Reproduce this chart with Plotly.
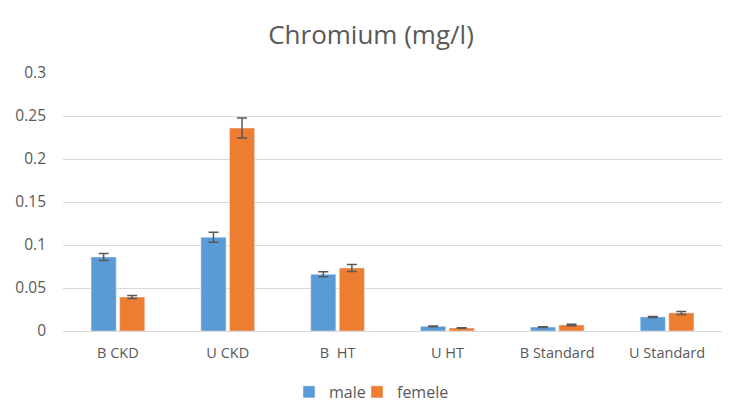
import plotly.graph_objects as go

categories = ["B CKD", "U CKD", "B  HT", "U HT", "B Standard", "U Standard"]
male = [0.086, 0.109, 0.066, 0.0054, 0.0046, 0.0163]
male_err = [0.004, 0.0058, 0.003, 0.0004, 0.0004, 0.0006]
female = [0.0395, 0.236, 0.0733, 0.0035, 0.007, 0.021]
female_err = [0.0017, 0.0116, 0.004, 0.0004, 0.0008, 0.0018]
y_ticks = [0, 0.05, 0.1, 0.15, 0.2, 0.25, 0.3]
y_tick_labels = ["0", "0.05", "0.1", "0.15", "0.2", "0.25", "0.3"]

# page is rendered with an 8px body margin, so the figure is offset by (8, 8)
OFF = 8
W, H = 741 - OFF, 418 - OFF
L, R, T, B = 63 - OFF, 19, 73 - OFF, 87
pw, ph = W - L - R, H - T - B

err_style = dict(type="data", visible=True, color="#595959", thickness=1.5, width=5)

fig = go.Figure()
fig.add_trace(go.Bar(name="male", x=categories, y=male, marker_color="#5B9BD5",
                     error_y=dict(array=male_err, **err_style), legend="legend2",
                     showlegend=True))
fig.add_trace(go.Bar(name="femele", x=categories, y=female, marker_color="#ED7D31",
                     error_y=dict(array=female_err, **err_style), legend="legend3",
                     showlegend=True))

leg_y = -(392 - OFF - (T + ph)) / ph
leg_common = dict(orientation="h", xanchor="left", y=leg_y, yanchor="middle",
                  itemwidth=30, font=dict(size=16, color="#595959"),
                  bgcolor="rgba(0,0,0,0)", visible=True)

fig.update_layout(
    width=W, height=H,
    paper_bgcolor="white", plot_bgcolor="white",
    margin=dict(l=L, r=R, t=T, b=B, autoexpand=False),
    barmode="group", bargap=0.48, bargroupgap=0.12,
    font=dict(family="Open Sans", color="#595959", size=14),
    title=dict(text="Chromium (mg/l)", x=(371 - OFF) / W, xanchor="center",
               y=1 - (35 - OFF) / H, yanchor="middle",
               font=dict(size=26, color="#595959")),
    legend2=dict(x=(289 - OFF - L) / pw, **leg_common),
    legend3=dict(x=(357 - OFF - L) / pw, **leg_common),
    xaxis=dict(showgrid=False, showline=True, linecolor="#D9D9D9", linewidth=1,
               ticks="", ticklabelstandoff=9, tickfont=dict(size=14.5, color="#595959")),
    yaxis=dict(range=[0, 0.3], tickvals=y_ticks, ticktext=y_tick_labels,
               showgrid=True, gridcolor="#D9D9D9", gridwidth=1, zeroline=False,
               showline=False, ticks="", ticklabelstandoff=16,
               tickfont=dict(size=15.5, color="#595959")),
)

fig.write_html("out.html")
